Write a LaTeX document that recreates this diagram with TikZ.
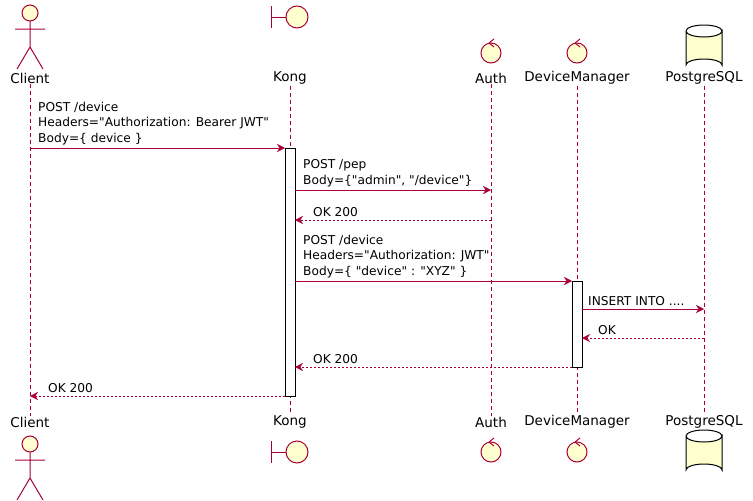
\documentclass[tikz,border=0pt]{standalone}
\usepackage{fontspec}
\setmainfont{DejaVu Sans}[Ligatures=TeXOff]
\usetikzlibrary{arrows.meta,positioning}
\definecolor{umlred}{HTML}{A80036}
\definecolor{umlfill}{HTML}{FEFECE}
\tikzset{
  part/.style={font=\fontsize{13.5}{15}\selectfont, inner sep=1pt},
  msg/.style={font=\fontsize{12.2}{15.5}\selectfont, align=left, inner sep=0pt, anchor=south west},
  life/.style={umlred, dashed, dash pattern=on 4pt off 3pt, thin},
  call/.style={umlred, -{Stealth[length=8pt,width=8pt]}},
  reply/.style={call, dashed, dash pattern=on 2pt off 2pt},
  icon/.style={umlred, fill=umlfill, line width=1pt},
  act/.style={draw=black, fill=white, thin},
}
\newcommand{\actor}[1]{% center x,y of head
  \draw[icon] (#1) ++(0,0) circle (8);
  \draw[icon, fill=none] (#1) ++(0,8) -- ++(0,26) ++(-15,-18) -- ++(30,0)
    (#1) ++(0,34) -- ++(-13,22) (#1) ++(0,34) -- ++(13,22);}
\newcommand{\boundary}[1]{%
  \draw[icon] (#1) circle (11);
  \draw[icon] (#1) ++(-26,-11) -- ++(0,22) ++(0,-11) -- ++(15,0);}
\newcommand{\control}[1]{%
  \draw[icon] (#1) circle (10);
  \draw[icon, fill=none] (#1) ++(-2,-10) -- ++(5,-4) (#1) ++(-2,-10) -- ++(5,4);}
\newcommand{\database}[1]{% top-left corner
  \draw[icon, draw=black] (#1) ++(0,6) -- ++(0,34) arc[start angle=180,end angle=360,x radius=18,y radius=6]
    -- ++(0,-34) arc[start angle=0,end angle=180,x radius=18,y radius=6];
  \draw[icon, draw=black, fill=none] (#1) ++(0,6) arc[start angle=180,end angle=360,x radius=18,y radius=6];}
\begin{document}
\begin{tikzpicture}[x=1pt,y=-1pt]
   \useasboundingbox (0,0) rectangle (753,501);

   % participants, top and bottom
   \foreach \n/\x/\t in {cl/30/Client, ko/290/Kong, au/491/Auth, dm/577/DeviceManager, pg/704/PostgreSQL} {
     \node[part] (\n top) at (\x,78) {\t};
     \node[part] (\n bot) at (\x,422) {\t};
     \draw[life] (\n top.south) -- (\n bot.north);
   }

   % icons
   \actor{30,13}      \actor{30,444}
   \boundary{297,17}  \boundary{297,452}
   \control{491,53}   \control{491,452}
   \control{577,53}   \control{577,452}
   \database{686,25}  \database{686,430}

   % activations
   \draw[act] (285,148) rectangle (295,396);
   \draw[act] (572,281) rectangle (582,367);

   % message end points
   \coordinate (m1a) at (30,148);  \coordinate (m1b) at (285,148);
   \coordinate (m2a) at (295,190); \coordinate (m2b) at (491,190);
   \coordinate (m3a) at (491,220); \coordinate (m3b) at (295,220);
   \coordinate (m4a) at (295,281); \coordinate (m4b) at (572,281);
   \coordinate (m5a) at (582,309); \coordinate (m5b) at (704,309);
   \coordinate (m6a) at (704,338); \coordinate (m6b) at (582,338);
   \coordinate (m7a) at (572,367); \coordinate (m7b) at (295,367);
   \coordinate (m8a) at (285,396); \coordinate (m8b) at (30,396);

   \draw[call] (m1a) -- (m1b);
   \node[msg] (t1) at (38,145) {POST /device\\Headers="Authorization: Bearer JWT"\\Body=\{ device \}};
   \draw[call] (m2a) -- (m2b);
   \node[msg] (t2) at (303,187) {POST /pep\\Body=\{"admin", "/device"\}};
   \draw[reply] (m3a) -- (m3b);
   \node[msg] (t3) at (313,217) {OK 200};
   \draw[call] (m4a) -- (m4b);
   \node[msg] (t4) at (303,278) {POST /device\\Headers="Authorization: JWT"\\Body=\{ "device" : "XYZ" \}};
   \draw[call] (m5a) -- (m5b);
   \node[msg] (t5) at (588,306) {INSERT INTO ....};
   \draw[reply] (m6a) -- (m6b);
   \node[msg] (t6) at (598,335) {OK};
   \draw[reply] (m7a) -- (m7b);
   \node[msg] (t7) at (313,364) {OK 200};
   \draw[reply] (m8a) -- (m8b);
   \node[msg] (t8) at (48,393) {OK 200};
\end{tikzpicture}
\end{document}
